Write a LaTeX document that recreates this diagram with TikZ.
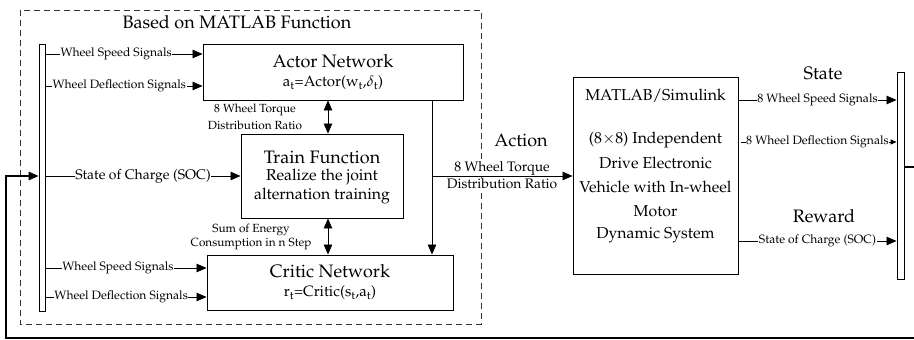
\documentclass[tikz,border=0pt]{standalone}
\usepackage[T1]{fontenc}
\usepackage{mathpazo}
\usetikzlibrary{arrows.meta}
\tikzset{
  box/.style={draw, line width=0.9pt, inner sep=0pt},
  bus/.style={draw, line width=0.9pt, inner sep=0pt, fill=white},
  arr/.style={line width=0.8pt, -{Triangle[length=10pt,width=8.5pt]}},
  darr/.style={line width=0.8pt, {Triangle[length=10pt,width=8.5pt]}-{Triangle[length=10pt,width=8.5pt]}},
  lbl/.style={fill=white, inner sep=0.5pt, font=\fontsize{12.1}{13}\selectfont},
  note/.style={inner sep=0pt, font=\fontsize{11.8}{13}\selectfont},
  alab/.style={fill=white, inner sep=1pt, font=\fontsize{13.8}{15}\selectfont},
  big/.style={font=\fontsize{18}{20}\selectfont},
  sub/.style={font=\fontsize{15}{17}\selectfont},
  body/.style={font=\fontsize{15.8}{18}\selectfont},
  txt/.style={inner sep=0pt},
}
\begin{document}
\begin{tikzpicture}[x=1pt,y=-1pt]
\useasboundingbox (0,0) rectangle (914,340);
% dashed frame
\draw[line width=0.7pt, dash pattern=on 6pt off 4pt, black!80] (20,10) rectangle (481,324);
\node[big] (title) at (237,22) {Based on MATLAB Function};
% buses
\node[bus, minimum width=6pt, minimum height=267pt] (lbus) at (42,177.5) {};
\node[bus, minimum width=7pt, minimum height=207pt] (rbus) at (900.5,175.5) {};
% boxes
\node[box, minimum width=260pt, minimum height=56pt] (actor) at (333,72) {};
\node[box, minimum width=162pt, minimum height=84pt] (train) at (322,176) {};
\node[box, minimum width=246pt, minimum height=55pt] (critic) at (330,282.5) {};
\node[box, minimum width=165pt, minimum height=197pt] (matlab) at (655.5,175.5) {};
% box texts
\node[big, txt] (actorT) at (333,61) {Actor Network};
\node[sub, txt] (actorF) at (333,83) {a\textsubscript{t}=Actor(w\textsubscript{t},$\delta$\textsubscript{t})};
\node[big, txt] (trainT) at (322,157) {Train Function};
\node[body, txt] (trainA) at (322,177.5) {Realize the joint};
\node[body, txt] (trainB) at (322,196) {alternation training};
\node[big, txt] (criticT) at (330,271) {Critic Network};
\node[sub, txt] (criticF) at (330,293) {r\textsubscript{t}=Critic(s\textsubscript{t},a\textsubscript{t})};
\node[body, txt] (m1) at (655.5,96) {MATLAB/Simulink};
\node[body, txt] (m2) at (655.5,140) {(8$\times$8) Independent};
\node[body, txt] (m3) at (655.5,163) {Drive Electronic};
\node[body, txt] (m4) at (655.5,187) {Vehicle with In-wheel};
\node[body, txt] (m5) at (655.5,211) {Motor};
\node[body, txt] (m6) at (655.5,235) {Dynamic System};
% coordinates
\coordinate (y54) at (0,54);
\coordinate (y86) at (0,86);
\coordinate (y176) at (0,176);
\coordinate (y268) at (0,268);
\coordinate (y297) at (0,297);
\coordinate (y100) at (0,100);
\coordinate (y142) at (0,142);
\coordinate (y241) at (0,241);
\coordinate (y167) at (0,167);
\coordinate (xd) at (328,0);
\coordinate (xv) at (432,0);
\coordinate (br) at (432,176);
% left inputs
\draw[arr] (lbus.east |- y54) -- (actor.west |- y54) node[lbl, pos=0.45] {Wheel Speed Signals};
\draw[arr] (lbus.east |- y86) -- (actor.west |- y86) node[lbl, pos=0.47] {Wheel Deflection Signals};
\draw[arr] (lbus.east |- y176) -- (train.west |- y176) node[lbl, midway, font=\fontsize{14}{15}\selectfont] {State of Charge (SOC)};
\draw[arr] (lbus.east |- y268) -- (critic.west |- y268) node[lbl, pos=0.45] {Wheel Speed Signals};
\draw[arr] (lbus.east |- y297) -- (critic.west |- y297) node[lbl, pos=0.47] {Wheel Deflection Signals};
% double arrows
\draw[darr] (xd |- actor.south) -- (xd |- train.north);
\draw[darr] (xd |- train.south) -- (xd |- critic.north);
\node[note] (n1a) at (255,110) {8 Wheel Torque};
\node[note] (n1b) at (255,125) {Distribution Ratio};
\node[note] (n2a) at (251,230) {Sum of Energy};
\node[note] (n2b) at (251,244.5) {Consumption in n Step};
% actor output
\draw[arr] (xv |- actor.south) -- (xv |- critic.north);
\draw[arr] (br) -- (matlab.west |- br);
\node[alab] (ala) at (502,168) {8 Wheel Torque};
\node[alab] (alb) at (502,184) {Distribution Ratio};
\node[big] (action) at (521,140) {Action};
% right outputs
\draw[arr] (matlab.east |- y100) -- (rbus.west |- y100) node[lbl, midway] {8 Wheel Speed Signals};
\draw[line width=0.8pt, -{Triangle[length=6pt,width=5pt]}] ([xshift=3pt]matlab.east |- y142) -- (rbus.west |- y142) node[lbl, pos=0.49] {8 Wheel Deflection Signals};
\draw[arr] (matlab.east |- y241) -- (rbus.west |- y241) node[lbl, midway] {State of Charge (SOC)};
\node[big] (state) at (823,73) {State};
\node[big] (reward) at (824,216) {Reward};
% feedback
\draw[line width=1.6pt, -{Triangle[length=10pt,width=8.5pt]}] (rbus.east |- y167) -- (925,167) -- (925,338) -- (6,338) -- (6,176) -- (lbus.west |- y176);
\end{tikzpicture}
\end{document}
